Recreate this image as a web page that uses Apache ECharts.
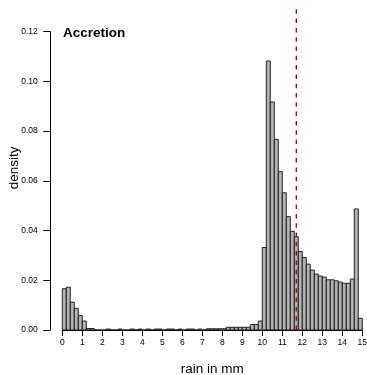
<!DOCTYPE html>
<html>
<head>
<meta charset="utf-8">
<script src="https://cdn.jsdelivr.net/npm/echarts@6/dist/echarts.min.js"></script>
<style>
  html, body { margin: 0; padding: 0; background: #fff; }
  #chart { width: 367px; height: 375px; }
</style>
</head>
<body>
<div id="chart"></div>
<script>
// histogram bins: start at binStart, each binWidth mm wide
var binStart = 0
var binWidth = 0.2
var densities = [
  0.0166, 0.0172, 0.0112, 0.0087, 0.0058, 0.0036, 0.0006, 0.0006, 0, 0,
  0, 0.0004, 0, 0, 0.0004, 0, 0, 0.0004, 0, 0.0004,
  0, 0.0004, 0, 0.0004, 0.0004, 0, 0.0004, 0.0004, 0, 0.0004,
  0, 0.0004, 0.0004, 0, 0.0004, 0, 0.0005, 0.0005, 0.0005, 0.0005,
  0.0005, 0.0011, 0.0011, 0.0011, 0.0011, 0.0011, 0.0011, 0.0022, 0.0022, 0.0036,
  0.0332, 0.1082, 0.0917, 0.0767, 0.0637, 0.0552, 0.0456, 0.0397, 0.0375, 0.0316,
  0.0292, 0.0265, 0.0241, 0.0225, 0.0217, 0.0213, 0.0202, 0.0202, 0.0198, 0.0193,
  0.0188, 0.0188, 0.0205, 0.0487, 0.0047
]
var xTicks = [0, 15, 1]          // min, max, step
var yTicks = [0, 0.12, 0.02]
var cutoff = 11.7                // red dashed line
var cutoffTop = 0.1293

var binData = densities.map(function (d, i) {
  var x0 = binStart + i * binWidth
  return [x0, x0 + binWidth, d]
})

var font = 'Liberation Sans, Arial, sans-serif'
var chart = echarts.init(document.getElementById('chart'))

chart.setOption({
  animation: false,
  title: {
    text: 'Accretion',
    left: 63,
    top: 26,
    padding: 0,
    textStyle: { fontFamily: font, fontSize: 13.5, fontWeight: 'bold', color: '#000' }
  },
  grid: { left: 62.3, right: 4.7, top: 31.7, bottom: 45, outerBoundsMode: 'none', containLabel: false },
  xAxis: {
    type: 'value',
    min: xTicks[0], max: xTicks[1], interval: xTicks[2],
    name: 'rain in mm',
    nameLocation: 'middle',
    nameGap: 32,
    nameMoveOverlap: false,
    nameTextStyle: { fontFamily: font, fontSize: 13.5, color: '#000' },
    splitLine: { show: false },
    axisLine: { onZero: false, lineStyle: { color: '#000', width: 1 } },
    axisTick: { length: 6, lineStyle: { color: '#000' } },
    axisLabel: { margin: 8, fontFamily: font, fontSize: 8.5, color: '#000' }
  },
  yAxis: {
    type: 'value',
    min: yTicks[0], max: yTicks[1], interval: yTicks[2],
    offset: 12,
    name: 'density',
    nameLocation: 'middle',
    nameGap: 29,
    nameMoveOverlap: false,
    nameTextStyle: { fontFamily: font, fontSize: 13.5, color: '#000', padding: [0, 0, 0, 26] },
    splitLine: { show: false },
    axisLine: { show: true, onZero: false, lineStyle: { color: '#000', width: 1 } },
    axisTick: { show: true, length: 7, lineStyle: { color: '#000' } },
    axisLabel: {
      margin: 12.5, fontFamily: font, fontSize: 8.5, color: '#000',
      formatter: function (v) { return v.toFixed(2) }
    }
  },
  series: [
    {
      type: 'custom',
      data: binData,
      encode: { x: [0, 1], y: 2 },
      renderItem: function (params, api) {
        var p0 = api.coord([api.value(0), api.value(2)])
        var p1 = api.coord([api.value(1), 0])
        return {
          type: 'rect',
          shape: { x: p0[0], y: p0[1], width: p1[0] - p0[0], height: p1[1] - p0[1] },
          style: { fill: '#b3b3b3', stroke: '#111', lineWidth: 0.9 }
        }
      }
    },
    {
      type: 'line',
      clip: false,
      symbol: 'none',
      data: [[cutoff, 0], [cutoff, cutoffTop]],
      lineStyle: { color: '#a00000', width: 1.3, type: [4.5, 4.8] },
      z: 5
    }
  ]
})
</script>
</body>
</html>
